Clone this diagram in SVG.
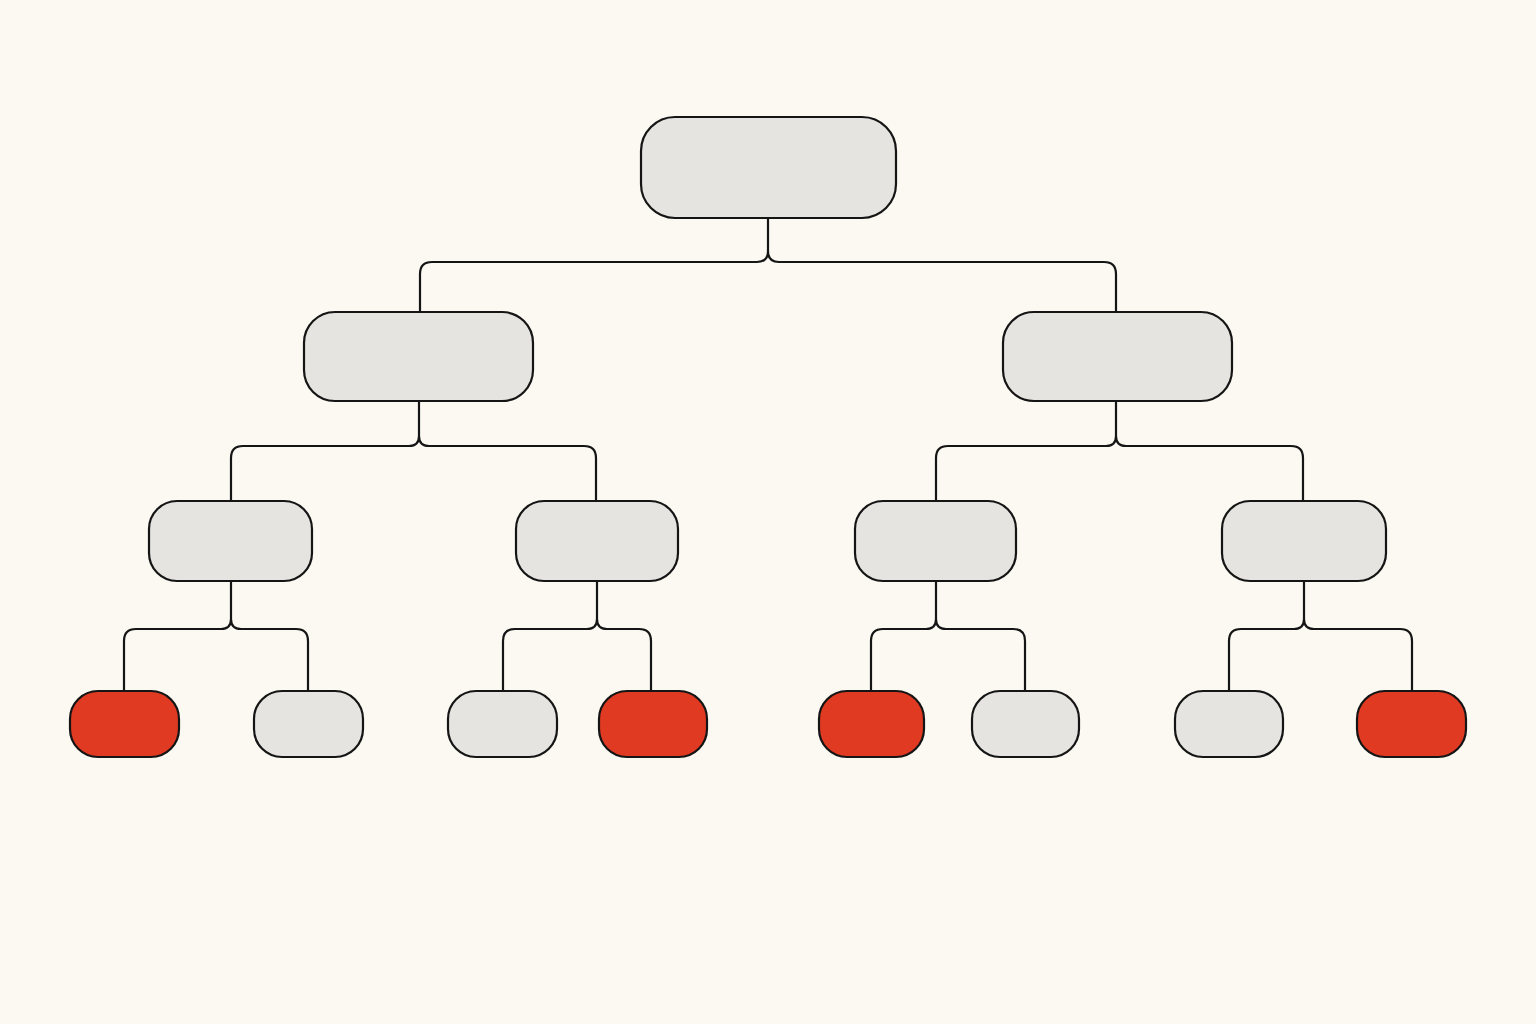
<svg xmlns="http://www.w3.org/2000/svg" width="1536" height="1024" viewBox="0 0 1536 1024">
<style>
.n{fill:#E5E4E0;stroke:#151515;stroke-width:2.2}
.r{fill:#E03A22;stroke:#151515;stroke-width:2.2}
.c{fill:none;stroke:#151515;stroke-width:2.2;stroke-linejoin:round}
</style>
<rect width="1536" height="1024" fill="#FBF9F2"/>
<g id="connectors">
<path class="c" d="M768 218 V251 Q768 262 757 262 H432 Q420 262 420 274 V312 M768 251 Q768 262 779 262 H1104 Q1116 262 1116 274 V312"/>
<path class="c" d="M419 401 V436 Q419 446 409 446 H243 Q231 446 231 458 V501 M419 436 Q419 446 429 446 H584 Q596 446 596 458 V501"/>
<path class="c" d="M1116 401 V436 Q1116 446 1106 446 H948 Q936 446 936 458 V501 M1116 436 Q1116 446 1126 446 H1291 Q1303 446 1303 458 V501"/>
<path class="c" d="M231 581 V619 Q231 629 221 629 H136 Q124 629 124 641 V691 M231 619 Q231 629 241 629 H296 Q308 629 308 641 V691"/>
<path class="c" d="M597 581 V619 Q597 629 587 629 H515 Q503 629 503 641 V691 M597 619 Q597 629 607 629 H639 Q651 629 651 641 V691"/>
<path class="c" d="M936 581 V619 Q936 629 926 629 H883 Q871 629 871 641 V691 M936 619 Q936 629 946 629 H1013 Q1025 629 1025 641 V691"/>
<path class="c" d="M1304 581 V619 Q1304 629 1294 629 H1241 Q1229 629 1229 641 V691 M1304 619 Q1304 629 1314 629 H1400 Q1412 629 1412 641 V691"/>
</g>
<g id="root"><rect class="n" x="641" y="117" width="255" height="101" rx="34"/></g>
<g id="l1a"><rect class="n" x="304" y="312" width="229" height="89" rx="31"/></g>
<g id="l1b"><rect class="n" x="1003" y="312" width="229" height="89" rx="31"/></g>
<g id="l2a"><rect class="n" x="149" y="501" width="163" height="80" rx="28"/></g>
<g id="l2b"><rect class="n" x="516" y="501" width="162" height="80" rx="28"/></g>
<g id="l2c"><rect class="n" x="855" y="501" width="161" height="80" rx="28"/></g>
<g id="l2d"><rect class="n" x="1222" y="501" width="164" height="80" rx="28"/></g>
<g id="leaf1"><rect class="r" x="70" y="691" width="109" height="66" rx="28"/></g>
<g id="leaf2"><rect class="n" x="254" y="691" width="109" height="66" rx="28"/></g>
<g id="leaf3"><rect class="n" x="448" y="691" width="109" height="66" rx="28"/></g>
<g id="leaf4"><rect class="r" x="599" y="691" width="108" height="66" rx="28"/></g>
<g id="leaf5"><rect class="r" x="819" y="691" width="105" height="66" rx="28"/></g>
<g id="leaf6"><rect class="n" x="972" y="691" width="107" height="66" rx="28"/></g>
<g id="leaf7"><rect class="n" x="1175" y="691" width="108" height="66" rx="28"/></g>
<g id="leaf8"><rect class="r" x="1357" y="691" width="109" height="66" rx="28"/></g>
</svg>
